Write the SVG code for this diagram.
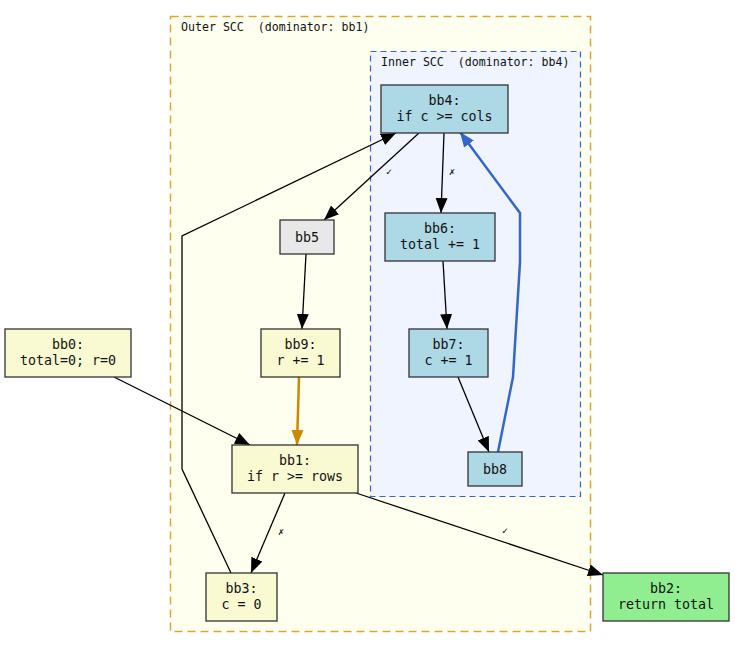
<svg xmlns="http://www.w3.org/2000/svg" width="735" height="648" viewBox="0 0 735 648">
<defs>
<style>
.n text{font-family:"DejaVu Sans Mono",monospace;font-size:13.3px;fill:#111;text-anchor:middle}
.n rect{stroke:#333;stroke-width:1.3}
.blue rect{fill:#add8e6}
.yel rect{fill:#fafad2}
.cl{font-family:"DejaVu Sans Mono",monospace;font-size:11.6px;fill:#111;white-space:pre}
.e{fill:none;stroke:#000;stroke-width:1.3}
.el{font-family:"DejaVu Sans Mono",monospace;font-size:10px;fill:#111;text-anchor:middle}
</style>
<marker id="ab" markerUnits="userSpaceOnUse" markerWidth="16" markerHeight="14" viewBox="0 0 16 14" refX="15" refY="7" orient="auto"><path d="M0,1 L15,7 L0,13 Z" fill="#000"/></marker>
<marker id="ao" markerUnits="userSpaceOnUse" markerWidth="16" markerHeight="14" viewBox="0 0 16 14" refX="15" refY="7" orient="auto"><path d="M0,1 L15,7 L0,13 Z" fill="#cc8800"/></marker>
<marker id="au" markerUnits="userSpaceOnUse" markerWidth="16" markerHeight="14" viewBox="0 0 16 14" refX="15" refY="7" orient="auto"><path d="M0,1 L15,7 L0,13 Z" fill="#3366cc"/></marker>
</defs>
<rect width="735" height="648" fill="#fff"/>
<g id="outer">
<rect x="170.5" y="16.5" width="420" height="615" fill="#fffff0" stroke="#daa530" stroke-width="1.5" stroke-dasharray="8,5"/>
<text class="cl" x="181" y="31" xml:space="preserve">Outer SCC  (dominator: bb1)</text>
</g>
<g id="inner">
<rect x="370.5" y="51.5" width="210" height="445" fill="#eff4ff" stroke="#3366cc" stroke-width="1.2" stroke-dasharray="6,4"/>
<text class="cl" x="381" y="66" xml:space="preserve">Inner SCC  (dominator: bb4)</text>
</g>
<g id="edges">
<path class="e" d="M114,377 L250,445" marker-end="url(#ab)"/>
<path d="M299,377 L297,445" fill="none" stroke="#cc8800" stroke-width="2.5" marker-end="url(#ao)"/>
<path class="e" d="M306,254 L302,329" marker-end="url(#ab)"/>
<path class="e" d="M419,133 L324,220" marker-end="url(#ab)"/>
<text class="el" x="389" y="175">✓</text>
<path class="e" d="M444,133 L441,213" marker-end="url(#ab)"/>
<text class="el" x="452" y="175">✗</text>
<path class="e" d="M443,261 L447,329" marker-end="url(#ab)"/>
<path class="e" d="M458,377 L489,452" marker-end="url(#ab)"/>
<path d="M498,452 L513,377 L520,262 L520,213 L460,132" fill="none" stroke="#3366cc" stroke-width="2.5" marker-end="url(#au)"/>
<path class="e" d="M231,573 L182,469 L182,236 L396,133" marker-end="url(#ab)"/>
<path class="e" d="M285,493 L251,573" marker-end="url(#ab)"/>
<text class="el" x="281" y="535">✗</text>
<path class="e" d="M356,493 L603,575" marker-end="url(#ab)"/>
<text class="el" x="505" y="534">✓</text>
</g>
<g id="bb4" class="n blue"><rect x="381" y="85" width="127" height="48"/><text x="444.5" y="105">bb4:</text><text x="444.5" y="121">if c &gt;= cols</text></g>
<g id="bb6" class="n blue"><rect x="385" y="213" width="110" height="48"/><text x="440" y="233">bb6:</text><text x="440" y="249">total += 1</text></g>
<g id="bb7" class="n blue"><rect x="409" y="329" width="79" height="48"/><text x="448.5" y="349">bb7:</text><text x="448.5" y="365">c += 1</text></g>
<g id="bb8" class="n blue"><rect x="468" y="452" width="54" height="34"/><text x="495" y="473.5">bb8</text></g>
<g id="bb5" class="n"><rect x="280" y="220" width="54" height="34" fill="#e8e8e8"/><text x="307" y="241.5">bb5</text></g>
<g id="bb9" class="n yel"><rect x="261" y="329" width="79" height="48"/><text x="300.5" y="349">bb9:</text><text x="300.5" y="365">r += 1</text></g>
<g id="bb1" class="n yel"><rect x="232" y="445" width="126" height="48"/><text x="295" y="465">bb1:</text><text x="295" y="481">if r &gt;= rows</text></g>
<g id="bb3" class="n yel"><rect x="206" y="573" width="71" height="48"/><text x="241.5" y="593">bb3:</text><text x="241.5" y="609">c = 0</text></g>
<g id="bb0" class="n yel"><rect x="5" y="329" width="126" height="48"/><text x="68" y="349">bb0:</text><text x="68" y="365">total=0; r=0</text></g>
<g id="bb2" class="n"><rect x="603" y="573" width="126" height="48" fill="#90ee90"/><text x="666" y="593">bb2:</text><text x="666" y="609">return total</text></g>
</svg>
